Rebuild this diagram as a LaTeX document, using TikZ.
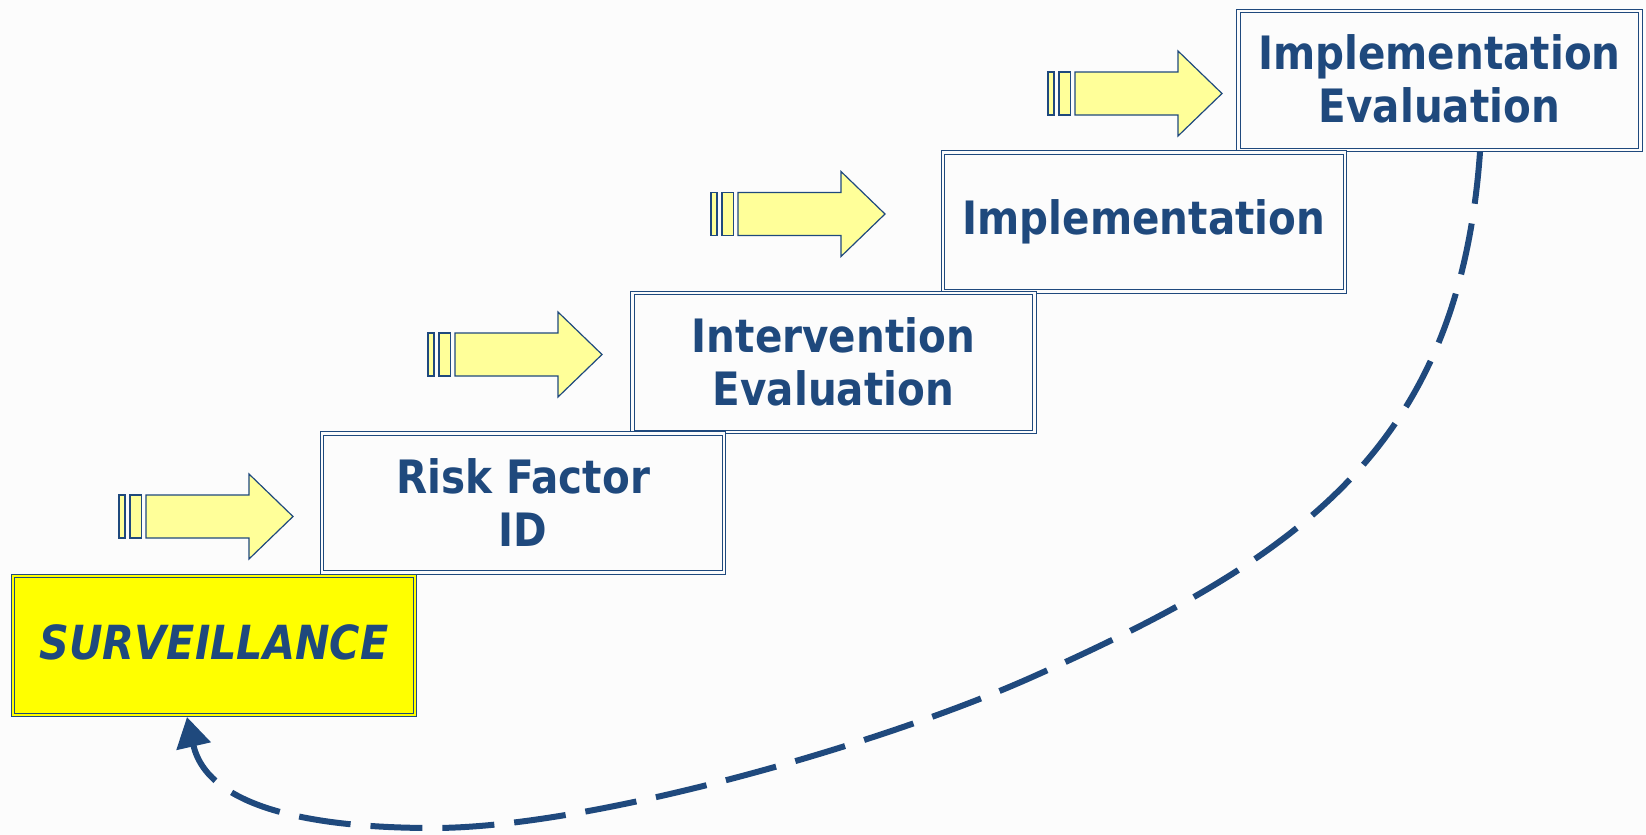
\documentclass[tikz,border=0pt]{standalone}
\usepackage{fontspec}
\setmainfont{DejaVu Sans}[FakeStretch=0.88]
\usetikzlibrary{arrows.meta}
\definecolor{navy}{HTML}{1F497D}
\definecolor{paleyellow}{HTML}{FFFF99}
\definecolor{brightyellow}{HTML}{FFFF00}
\definecolor{bg}{HTML}{FCFCFC}
\tikzset{
  stepbox/.style={draw=navy, line width=1.3pt, double=bg, double distance=2.2pt,
    minimum width=402pt, minimum height=139pt, inner sep=0pt, align=center,
    text=navy, font=\fontsize{46}{53}\selectfont\bfseries},
  survbox/.style={stepbox, double=brightyellow, fill=brightyellow,
    font=\fontsize{47}{50}\selectfont\bfseries\itshape},
  arrowpart/.style={draw=navy, fill=paleyellow, line width=1.2pt, line join=miter},
  loopline/.style={draw=navy, line width=6pt, dash pattern=on 52pt off 20pt,
    -{Triangle[length=30pt,width=34pt]}},
  blockarrow/.pic={
    \draw[arrowpart] (0,-21.5) rectangle (6,21.5);
    \draw[arrowpart] (11,-21.5) rectangle (22.5,21.5);
    \draw[arrowpart] (27,-21.5) -- (130,-21.5) -- (130,-42.5) -- (174,0)
      -- (130,42.5) -- (130,21.5) -- (27,21.5) -- cycle;
  }
}
\begin{document}
\begin{tikzpicture}[x=1pt,y=-1pt]
\fill[bg] (0,0) rectangle (1646,835);
\useasboundingbox (0,0) rectangle (1646,835);

\node[stepbox] (iev) at (1439.5,80.5) {\raisebox{3pt}{Implementation}\\\raisebox{3pt}{Evaluation}};
\node[stepbox] (im) at (1144,222) {Implementation};
\node[stepbox] (inv) at (833.5,362.5) {\raisebox{2pt}{Intervention}\\\raisebox{2pt}{Evaluation}};
\node[stepbox] (rf) at (523,503) {Risk Factor\\ID};
\node[survbox] (surv) at (214,645.5) {\raisebox{6pt}{SURVEILLANCE}};

\pic (a1) at (119,516.5) {blockarrow};
\pic (a2) at (428,354.5) {blockarrow};
\pic (a3) at (711,214) {blockarrow};
\pic (a4) at (1048,93.5) {blockarrow};

\coordinate (cs) at (1480,152);
\coordinate (ce) at (187,717);
\draw[loopline] (cs) .. controls (1459,448) and (1300,558) .. (1030,678)
  .. controls (884,743) and (593,828) .. (433,828)
  .. controls (333,828) and (209,814) .. (ce);
\end{tikzpicture}
\end{document}
